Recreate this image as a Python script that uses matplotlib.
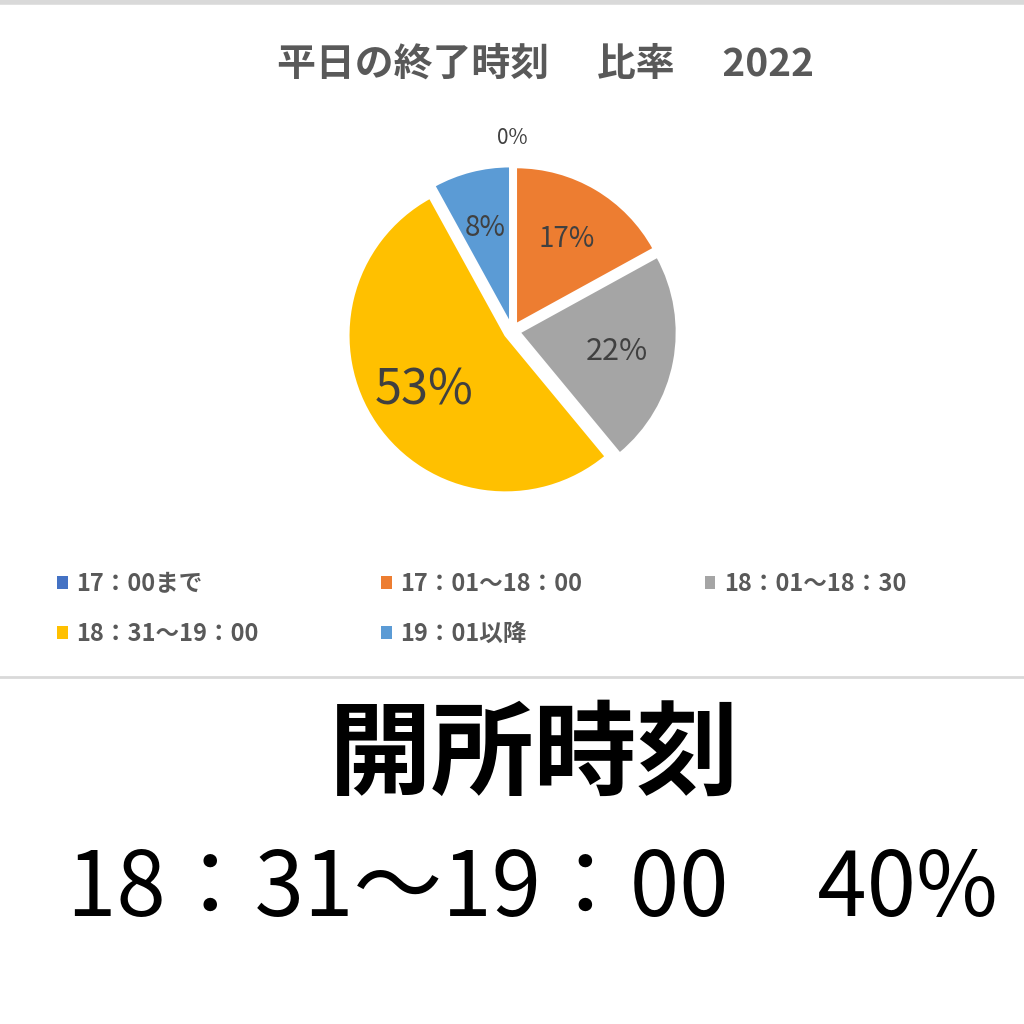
import matplotlib
matplotlib.use("Agg")
import numpy as np
from matplotlib import pyplot as plt
from matplotlib.patches import Patch
from matplotlib.lines import Line2D

plt.rcParams['font.family'] = ['Noto Sans CJK JP', 'DejaVu Sans']

title = "平日の終了時刻　 比率　 2022"
categories = ["17：00まで", "17：01～18：00", "18：01～18：30", "18：31～19：00", "19：01以降"]
shares = [0, 17, 22, 53, 8]
colors = ["#4472C4", "#ED7D31", "#A5A5A5", "#FFC000", "#5B9BD5"]
label_sizes = [15, 20, 22, 35, 20]
headline = "開所時刻"
subline = "18：31～19：00　40%"

fig = plt.figure(figsize=(10.24, 10.24), dpi=100)
fig.patch.set_facecolor("white")

# separator lines
fig.add_artist(Line2D([0, 1], [0.998, 0.998], color="#d9d9d9", lw=4))
fig.add_artist(Line2D([0, 1], [1 - 677 / 1024, 1 - 677 / 1024], color="#d9d9d9", lw=2))

fig.text(0.533, 1 - 64 / 1024, title, ha="center", va="center",
         fontsize=28, fontweight="bold", color="#595959")

# pie
r_px = 157
cx, cy = 512, 331
half = 1.3 * r_px
ax = fig.add_axes([(cx - half) / 1024, (1024 - cy - half) / 1024, 2 * half / 1024, 2 * half / 1024])
wedges, _ = ax.pie(shares, colors=colors, startangle=90, counterclock=False,
                   explode=[0.05] * len(shares),
                   wedgeprops=dict(edgecolor="white", linewidth=1.5))
ax.set_xlim(-1.3, 1.3)
ax.set_ylim(-1.3, 1.3)
ax.set_aspect("equal")
ax.axis("off")

for w, v, fs in zip(wedges, shares, label_sizes):
    mid = np.deg2rad((w.theta1 + w.theta2) / 2)
    d = 1.23 if v == 0 else 0.68
    x = d * np.cos(mid)
    y = d * np.sin(mid)
    ax.text(x, y, f"{v}%", ha="center", va="center", fontsize=fs, color="#404040")

# legend, row-first ordering
handles = [Patch(facecolor=c) for c in colors]
order = [0, 3, 1, 4, 2]
leg = fig.legend([handles[i] for i in order], [categories[i] for i in order],
                 ncol=3, loc="upper left", bbox_to_anchor=(0.035, 1 - 551 / 1024),
                 frameon=False, fontsize=17, handlelength=0.45, handleheight=0.45,
                 handletextpad=0.35, columnspacing=5.2, labelspacing=1.1)
for t in leg.get_texts():
    t.set_color("#595959")
    t.set_fontweight("bold")

fig.text(0.522, 1 - 757 / 1024, headline, ha="center", va="center",
         fontsize=74, fontweight="bold", color="black")
fig.text(0.52, 1 - 891 / 1024, subline, ha="center", va="center",
         fontsize=64, color="black")

fig.savefig("out.png", dpi=100, facecolor="white")
